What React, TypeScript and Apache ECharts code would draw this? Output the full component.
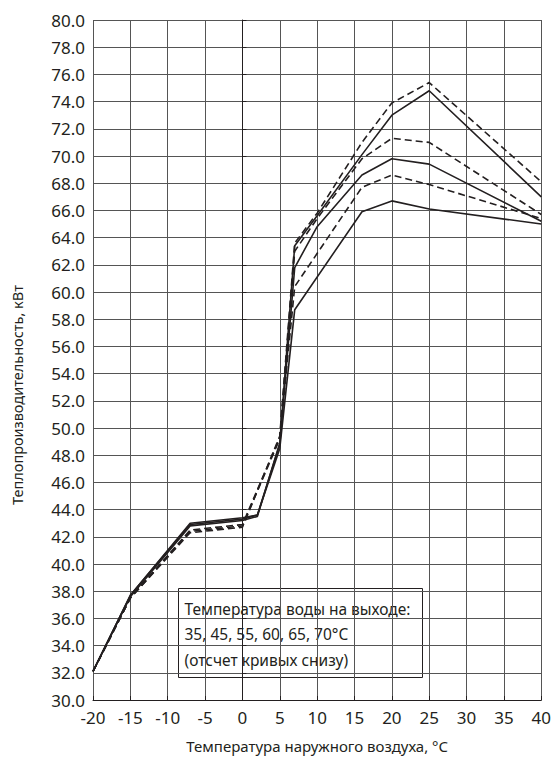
import React, { useEffect, useRef } from "react";
import * as echarts from "echarts";

const xTicks = [-20, -15, -10, -5, 0, 5, 10, 15, 20, 25, 30, 35, 40];
const waterTemps = ["35", "45", "55", "60", "65", "70"];

const s35: [number, number][] = [[-20, 32.1], [-15, 37.7], [-7, 43.0], [0, 43.4], [2, 43.6], [5, 48.5], [7, 58.7], [16, 65.9], [20, 66.7], [25, 66.1], [40, 65.0]];
const s45: [number, number][] = [[-20, 32.1], [-15, 37.5], [-7, 42.5], [0, 42.9], [5, 49.3], [7, 60.4], [16, 67.7], [20, 68.6], [25, 67.9], [40, 65.4]];
const s55: [number, number][] = [[-20, 32.1], [-15, 37.7], [-7, 42.9], [0, 43.3], [2, 43.6], [5, 48.8], [7, 61.8], [10, 64.8], [16, 68.6], [20, 69.8], [25, 69.4], [40, 65.2]];
const s60: [number, number][] = [[-20, 32.1], [-15, 37.5], [-7, 42.4], [0, 42.8], [5, 49.2], [7, 63.0], [10, 65.4], [16, 69.8], [20, 71.3], [25, 71.0], [40, 65.7]];
const s65: [number, number][] = [[-20, 32.1], [-15, 37.6], [-7, 42.8], [0, 43.2], [2, 43.5], [5, 48.9], [7, 63.4], [10, 65.6], [16, 70.1], [20, 73.0], [25, 74.8], [40, 67.0]];
const s70: [number, number][] = [[-20, 32.1], [-15, 37.5], [-7, 42.3], [0, 42.7], [5, 49.4], [7, 63.6], [10, 65.8], [16, 71.0], [20, 73.9], [25, 75.4], [40, 68.1]];

const seriesData = [s35, s45, s55, s60, s65, s70];
const dashed = [false, true, false, true, false, true];

const legendLines = [
  "Температура воды на выходе:",
  "35, 45, 55, 60, 65, 70°C",
  "(отсчет кривых снизу)",
];

const INK = "#231f20";

export default function App() {
  const ref = useRef<HTMLDivElement>(null);
  useEffect(() => {
    document.body.style.margin = "0";
    const chart = echarts.init(ref.current!, undefined, { renderer: "svg" });
    chart.setOption({
      animation: false,
      backgroundColor: "#ffffff",
      grid: { left: 93, right: 7, top: 20, bottom: 56, containLabel: false },
      xAxis: {
        type: "value",
        min: -20,
        max: 40,
        interval: 5,
        name: "Температура наружного воздуха, °C",
        nameLocation: "middle",
        nameGap: 38,
        nameTextStyle: { color: INK, fontSize: 15, fontFamily: "Noto Sans" },
        axisLine: { show: true, lineStyle: { color: INK, width: 1 } },
        axisTick: { show: true, inside: true, length: 4, lineStyle: { color: INK } },
        axisLabel: { color: INK, fontSize: 17, fontFamily: "Noto Sans", margin: 9 },
        splitLine: { show: true, lineStyle: { color: "#555", width: 1 } },
      },
      yAxis: {
        type: "value",
        min: 30,
        max: 80,
        interval: 2,
        axisLine: { show: true, lineStyle: { color: INK, width: 1 } },
        axisTick: { show: true, inside: true, length: 4, lineStyle: { color: INK } },
        axisLabel: {
          color: INK,
          fontSize: 17,
          fontFamily: "Noto Sans",
          margin: 8,
          formatter: (v: number) => v.toFixed(1),
        },
        splitLine: { show: true, lineStyle: { color: "#555", width: 1 } },
      },
      series: seriesData.map((d, i) => ({
        name: waterTemps[i] + "°C",
        type: "line",
        data: d,
        showSymbol: false,
        symbol: "none",
        lineStyle: { color: INK, width: 1.6, type: dashed[i] ? [7, 4] : "solid" },
        z: 3,
      })),
      graphic: [
        {
          type: "text",
          x: 17,
          y: 395,
          rotation: Math.PI / 2,
          style: {
            text: "Теплопроизводительность, кВт",
            fill: INK,
            fontSize: 14.5,
            fontFamily: "Noto Sans",
            align: "center",
            verticalAlign: "middle",
          },
        },
        {
          type: "group",
          left: 178,
          top: 588,
          z: 10,
          children: [
            {
              type: "rect",
              shape: { x: 0, y: 0, width: 244, height: 89 },
              style: { fill: "#fff", stroke: INK, lineWidth: 1 },
            },
            ...legendLines.map((t, i) => ({
              type: "text",
              x: 6,
              y: 12 + i * 25.5,
              style: { text: t, fill: INK, fontSize: 15.5, fontFamily: "Noto Sans" },
            })),
          ],
        },
      ],
    });
    return () => chart.dispose();
  }, []);
  return <div ref={ref} style={{ width: 554, height: 758 }} />;
}
